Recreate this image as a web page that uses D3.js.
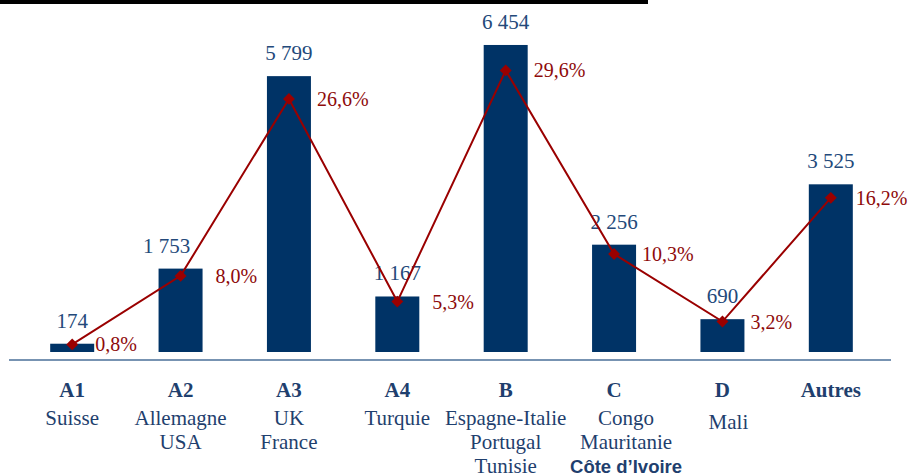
<!DOCTYPE html>
<html>
<head>
<meta charset="utf-8">
<script src="https://cdn.jsdelivr.net/npm/d3@7"></script>
<style>
  html, body { margin: 0; padding: 0; background: #fff; }
  svg { display: block; }
</style>
</head>
<body>
<svg id="chart" width="908" height="476"></svg>
<script>
// Zone codes, countries per zone, volumes and share of total
const codes = ["A1", "A2", "A3", "A4", "B", "C", "D", "Autres"];
const countries = [
  ["Suisse"],
  ["Allemagne", "USA"],
  ["UK", "France"],
  ["Turquie"],
  ["Espagne-Italie", "Portugal", "Tunisie"],
  ["Congo", "Mauritanie", "Côte d’Ivoire"],
  ["Mali"],
  []
];
const boldCountries = ["Côte d’Ivoire"];
const volumes = [174, 1753, 5799, 1167, 6454, 2256, 690, 3525];
const shares = [0.8, 8.0, 26.6, 5.3, 29.6, 10.3, 3.2, 16.2];

const svg = d3.select("#chart");
const barColor = "#003366";
const textBlue = "#1f3f6e";
const red = "#9a0000";
const serif = "'Liberation Serif', 'Times New Roman', serif";

const x = d3.scaleBand().domain(codes).range([18, 885])
  .paddingInner(0.594).paddingOuter(0.297);
const yVol = d3.scaleLinear().domain([0, 7000]).range([352, 19]);
const yPct = d3.scaleLinear().domain([0, 35]).range([352, 19]);
const cx = c => x(c) + x.bandwidth() / 2;

// header rule
svg.append("rect").attr("x", 0).attr("y", 0).attr("width", 648).attr("height", 4).attr("fill", "#000");

// bars
svg.append("g").selectAll("rect").data(codes).join("rect")
  .attr("x", c => x(c))
  .attr("width", x.bandwidth())
  .attr("y", (c, i) => yVol(volumes[i]))
  .attr("height", (c, i) => yVol(0) - yVol(volumes[i]))
  .attr("fill", barColor);

// volume labels
const labelShift = { "A2": -14 };
svg.append("g").selectAll("text").data(codes).join("text")
  .attr("x", c => cx(c) + (labelShift[c] || 0))
  .attr("y", (c, i) => yVol(volumes[i]) - 16)
  .attr("text-anchor", "middle")
  .attr("font-family", serif).attr("font-size", 21)
  .attr("fill", "#23497a")
  .text((c, i) => d3.format(",")(volumes[i]).replace(/,/g, " "));

// baseline axis
svg.append("line").attr("x1", 9).attr("x2", 891).attr("y1", 360).attr("y2", 360)
  .attr("stroke", "#4a6f99").attr("stroke-width", 1.5);

// share line
const pts = codes.map((c, i) => [cx(c), yPct(shares[i])]);
svg.append("path").attr("d", d3.line()(pts))
  .attr("fill", "none").attr("stroke", red).attr("stroke-width", 2);
svg.append("g").selectAll("path").data(pts).join("path")
  .attr("transform", p => `translate(${p[0]},${p[1]})`)
  .attr("d", d3.symbol(d3.symbolDiamond2, 90))
  .attr("fill", red);

// share labels
const shareShift = { "A1": -5, "A2": 7, "A4": 7, "Autres": -3 };
svg.append("g").selectAll("text").data(codes).join("text")
  .attr("x", c => cx(c) + 28 + (shareShift[c] || 0))
  .attr("y", (c, i) => yPct(shares[i]) + 7)
  .attr("font-family", serif).attr("font-size", 20)
  .attr("fill", "#8e0a0a")
  .text((c, i) => d3.format(".1f")(shares[i]).replace(".", ",") + "%");

// category labels
const countryShift = { "C": 12, "D": 6 };
const cat = svg.append("g").selectAll("text").data(codes).join("text")
  .attr("x", c => cx(c))
  .attr("text-anchor", "middle")
  .attr("font-family", serif).attr("font-size", 21)
  .attr("fill", textBlue);
cat.append("tspan").attr("x", c => cx(c)).attr("y", 397)
  .attr("font-weight", "bold").text(c => c);
cat.each(function (c, i) {
  const dx = countryShift[c] || 0;
  d3.select(this).selectAll("tspan.country").data(countries[i]).join("tspan")
    .attr("class", "country")
    .attr("x", cx(c) + dx)
    .attr("y", (d, j) => (c === "D" ? 429 : 425) + j * 24)
    .attr("font-weight", d => boldCountries.includes(d) ? "bold" : null)
    .attr("font-family", d => boldCountries.includes(d) ? "'Liberation Sans', Arial, sans-serif" : null)
    .attr("font-size", d => boldCountries.includes(d) ? 18.5 : null)
    .text(d => d);
});
</script>
</body>
</html>
